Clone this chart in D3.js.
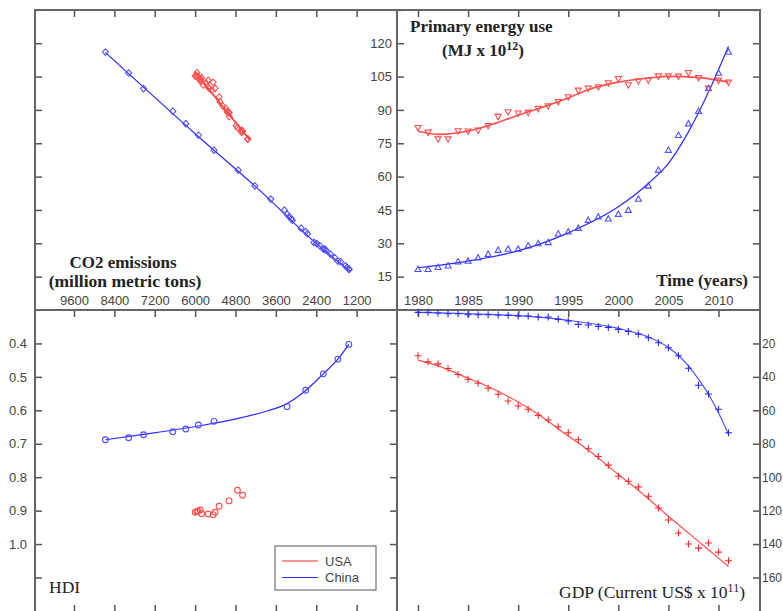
<html>
<head>
<script src="https://d3js.org/d3.v7.min.js"></script>
<style>
  body { margin: 0; background: #fff; }
  .lbl { font-family: "Liberation Sans", Arial, sans-serif; font-size: 13px; fill: #444; }
  .ttl { font-family: "Liberation Serif", "Times New Roman", serif; font-size: 17px; fill: #222; font-weight: bold; }
  .tk line { stroke: #555; stroke-width: 1.5; }
  .tk path { display: none; }
</style>
</head>
<body>
<script>
// ---------------------------------------------------------------
// data (USA = red, China = blue)
// ---------------------------------------------------------------
var years = [1980,1981,1982,1983,1984,1985,1986,1987,1988,1989,1990,1991,1992,1993,1994,1995,
             1996,1997,1998,1999,2000,2001,2002,2003,2004,2005,2006,2007,2008,2009,2010,2011];

// primary energy use (MJ x 10^12)
var usaEnergy   = [82.0,79.9,76.9,76.9,80.5,80.4,80.8,82.9,87.0,89.1,88.5,88.8,90.6,91.8,93.7,95.8,
                   98.8,99.7,100.3,102.1,104.0,101.2,103.0,103.3,105.2,105.2,105.1,106.7,104.5,99.7,103.3,102.4];
var chinaEnergy = [18.3,18.3,19.2,19.9,21.7,22.0,23.5,25.1,26.9,27.4,27.4,28.9,29.9,30.4,34.3,35.2,
                   36.8,40.4,41.9,41.0,43.1,44.9,49.9,55.8,62.9,71.9,78.6,83.8,89.4,99.6,106.6,116.0];

// CO2 emissions (million metric tons)
var usaCo2   = [4743,4620,4430,4440,4610,4590,4610,4780,4985,5050,4990,4995,5090,5180,5265,5286,
                5500,5580,5620,5680,5849,5760,5810,5860,5970,5997,5918,5948,5809,5405,5612,5464];
var chinaCo2 = [1431,1420,1480,1540,1680,1757,1850,1980,2110,2150,2191,2300,2390,2470,2660,2715,
                2850,3110,3200,3140,3268,3346,3751,4225,4719,5439,5903,6278,6663,7532,7976,8667];

// GDP (current US$ x 10^11)
var usaGdp   = [27.4,31.0,32.2,35.0,38.6,41.4,43.8,46.8,50.4,54.4,57.4,59.4,63.0,65.8,69.8,73.4,
                77.6,83.0,87.6,92.8,99.4,102.4,105.8,111.4,118.4,125.6,133.4,140.0,142.4,139.4,144.8,150.0];
var chinaGdp = [1.4,1.4,1.8,2.2,2.2,2.8,2.8,2.8,3.0,3.2,3.6,3.6,4.2,4.2,5.6,6.6,
                8.6,9.0,9.8,10.4,11.6,12.8,14.4,16.6,19.6,22.6,27.4,34.8,45.0,50.2,59.4,73.4];

// HDI (only some years)
var hdiYears = [1980,1985,1990,1995,2000,2005,2006,2007,2008,2009,2010,2011];
var usaHdi   = [0.839,0.854,0.871,0.887,0.898,0.905,0.901,0.903,0.909,0.905,0.910,0.912];
var chinaHdi = [0.403,0.447,0.491,0.540,0.589,0.633,0.644,0.656,0.664,0.673,0.682,0.688];

// fitted curves
var usaEnergyFit   = [[1980,80.4],[1982,79.0],[1985,80.5],[1987,82.9],[1990,87.6],[1993,92.1],[1995,95.4],
                      [1997,99.1],[2000,102.5],[2003,104.3],[2005,105.1],[2008,104.5],[2011,102.5]];
var chinaEnergyFit = [[1980,19.0],[1985,22.0],[1990,26.6],[1995,34.7],[2000,46.4],[2003,56.9],[2005,65.9],
                      [2007,80.1],[2009,98.0],[2011,118.6]];
var usaGdpFit      = [[1980,30.0],[1982,33.4],[1985,40.8],[1987,45.8],[1990,55.0],[1992,62.4],[1995,75.4],
                      [1997,83.8],[2000,98.4],[2002,107.8],[2005,123.4],[2007,133.4],[2009,143.4],[2011,153.4]];
var chinaGdpFit    = [[1980,1.4],[1985,2.2],[1990,3.4],[1995,6.2],[2000,11.0],[2003,16.2],[2005,22.4],
                      [2007,33.4],[2008,41.4],[2009,50.4],[2010,61.4],[2011,74.4]];
var usaCo2Fit      = [[6020,107.3],[4380,76.6]];
var chinaCo2Fit    = [[8667,115.8],[6000,79.3],[4000,52.7],[2400,29.9],[1400,17.6]];
var chinaHdiFit    = [[8667,0.688],[7532,0.672],[5903,0.647],[4847,0.627],[3860,0.602],[3268,0.580],
                      [2715,0.541],[2191,0.491],[1757,0.447],[1431,0.403]];

// ticks
var co2Ticks    = [1200,2400,3600,4800,6000,7200,8400,9600];
var yearTicks   = [1980,1985,1990,1995,2000,2005,2010];
var energyTicks = [15,30,45,60,75,90,105,120];
var gdpTicks    = [20,40,60,80,100,120,140,160];
var hdiTicks    = [0.4,0.5,0.6,0.7,0.8,0.9,1.0];

// ---------------------------------------------------------------
// layout
// ---------------------------------------------------------------
var W = 783, H = 611;
var fr = { left: 35, right: 760, top: 10, bottom: 612 };
var cx = 397, cy = 310;
var RED = "#ff2a2a", BLUE = "#2a2aff";
var REDM = "#ff5050", BLUEM = "#5050ff";

var svg = d3.select("body").append("svg").attr("width", W).attr("height", H);

var xCo2    = d3.scaleLinear().domain([0, 9600]).range([cx, 74]);
var yEnergy = d3.scaleLinear().domain([0, 120]).range([cy, 43.2]);
var xYear   = d3.scaleLinear().domain([1980, 2010]).range([418, 718.5]);
var yGdp    = d3.scaleLinear().domain([0, 160]).range([cy, 577.5]);
var yHdi    = d3.scaleLinear().domain([0.3, 1.1]).range([cy, 577.5]);

// ---------------------------------------------------------------
// ticks
// ---------------------------------------------------------------
function ticks(axis, x, y) {
  svg.append("g").attr("class", "tk").attr("transform", "translate(" + x + "," + y + ")")
    .call(axis.tickFormat("").tickSizeOuter(0));
}
var eT = energyTicks.concat([135]);
var hT = hdiTicks.concat([1.1]);
var gT = gdpTicks;

ticks(d3.axisBottom(xCo2).tickValues(co2Ticks).tickSize(7), 0, fr.top);
ticks(d3.axisBottom(xYear).tickValues(yearTicks).tickSize(7), 0, fr.top);
ticks(d3.axisBottom(xCo2).tickValues(co2Ticks).tickSize(7), 0, cy);
ticks(d3.axisBottom(xYear).tickValues(yearTicks).tickSize(7), 0, cy);
ticks(d3.axisTop(xCo2).tickValues(co2Ticks).tickSize(7), 0, fr.bottom);
ticks(d3.axisTop(xYear).tickValues(yearTicks).tickSize(7), 0, fr.bottom);
ticks(d3.axisRight(yEnergy).tickValues(eT).tickSize(7), fr.left, 0);
ticks(d3.axisRight(yEnergy).tickValues(eT).tickSize(7), cx, 0);
ticks(d3.axisLeft(yEnergy).tickValues(eT).tickSize(7), fr.right, 0);
ticks(d3.axisRight(yHdi).tickValues(hT).tickSize(7), fr.left, 0);
ticks(d3.axisLeft(yHdi).tickValues(hT).tickSize(7), cx, 0);
ticks(d3.axisLeft(yGdp).tickValues(gT).tickSize(7), fr.right, 0);

// tick labels
function labels(axis, x, y, pad, size) {
  var g = svg.append("g").attr("transform", "translate(" + x + "," + y + ")")
    .call(axis.tickSize(0).tickPadding(pad));
  g.select(".domain").remove();
  g.attr("font-family", null).attr("font-size", null);
  g.selectAll("text").attr("class", "lbl").attr("fill", null);
  if (size) g.selectAll("text").style("font-size", size);
}
labels(d3.axisTop(xCo2).tickValues(co2Ticks).tickFormat(d3.format("d")), 0, cy, 5);
labels(d3.axisTop(xYear).tickValues(yearTicks).tickFormat(d3.format("d")), 0, cy, 5);
labels(d3.axisLeft(yEnergy).tickValues(energyTicks), cx, 0, 5);
labels(d3.axisLeft(yHdi).tickValues(hdiTicks).tickFormat(d3.format(".1f")), fr.left, 0, 8);
labels(d3.axisRight(yGdp).tickValues(gdpTicks), fr.right, 0, 2, "12px");

// frame + central cross
var frame = svg.append("g").attr("stroke", "#666").attr("stroke-width", 2).attr("fill", "none");
frame.append("path").attr("d", "M" + fr.left + "," + fr.bottom + "V" + fr.top + "H" + fr.right + "V" + fr.bottom);
frame.append("line").attr("x1", fr.left).attr("x2", fr.right).attr("y1", cy).attr("y2", cy);
frame.append("line").attr("x1", cx).attr("x2", cx).attr("y1", fr.top).attr("y2", fr.bottom);

// ---------------------------------------------------------------
// marks
// ---------------------------------------------------------------
function curve(pts, xs, ys, color, w) {
  svg.append("path").datum(pts)
    .attr("fill", "none").attr("stroke", color).attr("stroke-width", w || 1.2)
    .attr("d", d3.line().x(function(d){ return xs(d[0]); }).y(function(d){ return ys(d[1]); })
      .curve(d3.curveMonotoneX));
}
function markers(xv, yv, xs, ys, color, pathStr) {
  svg.append("g").selectAll("path").data(xv).enter().append("path")
    .attr("transform", function(d, i){ return "translate(" + xs(d) + "," + ys(yv[i]) + ")"; })
    .attr("d", pathStr)
    .attr("fill", "none").attr("stroke", color).attr("stroke-width", 1.1);
}
var diamond  = "M0,-3.3L3,0L0,3.3L-3,0Z";
var triUp    = "M0,-3.2L3,2.2L-3,2.2Z";
var triDown  = "M0,3.2L3,-2.2L-3,-2.2Z";
var plus     = "M-3.5,0H3.5M0,-3.5V3.5";
var circle   = d3.symbol().type(d3.symbolCircle).size(26)();

// top-left: energy vs CO2
curve(chinaCo2Fit, xCo2, yEnergy, BLUE);
curve(usaCo2Fit, xCo2, yEnergy, RED, 1.5);
markers(chinaCo2, chinaEnergy, xCo2, yEnergy, BLUEM, diamond);
markers(usaCo2, usaEnergy, xCo2, yEnergy, REDM, diamond);

// top-right: energy vs time
curve(usaEnergyFit, xYear, yEnergy, REDM, 1.6);
curve(chinaEnergyFit, xYear, yEnergy, BLUE);
markers(years, usaEnergy, xYear, yEnergy, REDM, triDown);
markers(years, chinaEnergy, xYear, yEnergy, BLUEM, triUp);

// bottom-left: HDI vs CO2
var chinaCo2Hdi = hdiYears.map(function(y){ return chinaCo2[years.indexOf(y)]; });
var usaCo2Hdi   = hdiYears.map(function(y){ return usaCo2[years.indexOf(y)]; });
curve(chinaHdiFit, xCo2, yHdi, BLUE);
markers(chinaCo2Hdi, chinaHdi, xCo2, yHdi, BLUEM, circle);
markers(usaCo2Hdi, usaHdi, xCo2, yHdi, REDM, circle);

// bottom-right: GDP vs time
curve(usaGdpFit, xYear, yGdp, REDM);
curve(chinaGdpFit, xYear, yGdp, BLUEM);
markers(years, usaGdp, xYear, yGdp, RED, plus);
markers(years, chinaGdp, xYear, yGdp, BLUE, plus);

// ---------------------------------------------------------------
// titles
// ---------------------------------------------------------------
function title(x, y, anchor, parts, weight, size) {
  var t = svg.append("text").attr("class", "ttl").attr("x", x).attr("y", y).attr("text-anchor", anchor);
  if (weight) t.style("font-weight", weight);
  if (size) t.style("font-size", size);
  parts.forEach(function(p){
    var s = t.append("tspan").text(p[0]);
    if (p[1]) s.attr("dy", -6).style("font-size", "12px");
    if (p[2]) s.attr("dy", 6);
  });
}
title(123, 268, "middle", [["CO2 emissions"]]);
title(125, 287, "middle", [["(million metric tons)"]], null, "17.5px");
title(410, 32, "start", [["Primary energy use"]]);
title(442, 56, "start", [["(MJ x 10"], ["12", true], [")", false, true]]);
title(748, 286, "end", [["Time (years)"]]);
title(49, 593, "start", [["HDI"]], "normal", "17.5px");
title(745, 598, "end", [["GDP (Current US$ x 10"], ["11", true], [")", false, true]], "normal", "17.5px");

// legend
var lg = svg.append("g");
lg.append("rect").attr("x", 275).attr("y", 546).attr("width", 101).attr("height", 44)
  .attr("fill", "#fff").attr("stroke", "#555").attr("stroke-width", 1);
[["USA", RED], ["China", BLUE]].forEach(function(d, i){
  var y = 561 + i * 16.5;
  lg.append("line").attr("x1", 282).attr("x2", 318).attr("y1", y).attr("y2", y)
    .attr("stroke", d[1]).attr("stroke-width", 1);
  lg.append("text").attr("class", "lbl").attr("x", 325).attr("y", y + 4.5).style("font-size", "13px").text(d[0]);
});
</script>
</body>
</html>
